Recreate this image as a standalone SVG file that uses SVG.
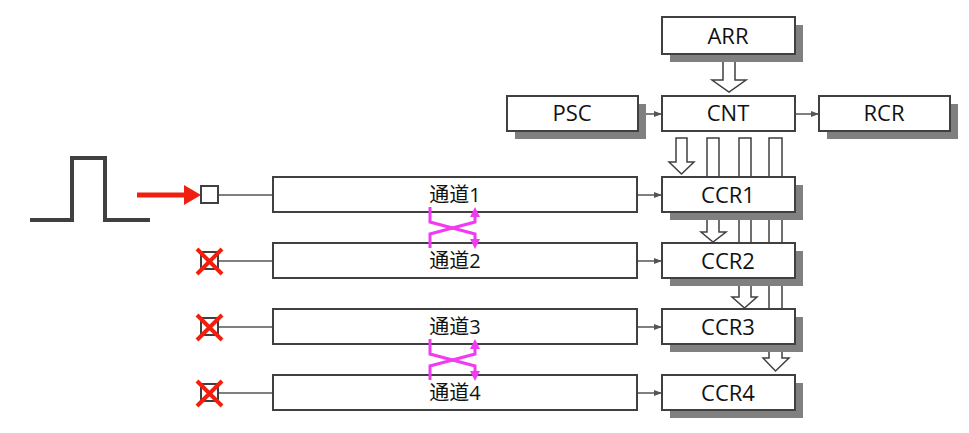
<svg xmlns="http://www.w3.org/2000/svg" width="969" height="433" viewBox="0 0 969 433">
<style>
.box{fill:#fff;stroke:#404040;stroke-width:2}
.sh{fill:#808080}
.t{font-family:"Open Sans","Noto Sans CJK SC",sans-serif;font-size:22px;fill:#111;text-anchor:middle}
.c{font-family:"Open Sans","Noto Sans CJK SC",sans-serif;font-size:20px;fill:#111;text-anchor:middle}
.ln{stroke:#555;stroke-width:1.5;fill:none}
.ha{fill:#fff;stroke:#404040;stroke-width:1.5}
.mg{stroke:#f03cf0;stroke-width:3;fill:none}
.mh{fill:#f03cf0}
.x{stroke:#f02010;stroke-width:4}
</style>
<defs>
<marker id="ga" markerWidth="8" markerHeight="8" refX="7" refY="4" orient="auto" markerUnits="userSpaceOnUse"><path d="M0,1 L8,4 L0,7z" fill="#555"/></marker>
</defs>
<g id="pulse"><path d="M30,220 H72 V158 H105 V220 H150" fill="none" stroke="#404040" stroke-width="4"/></g>
<g id="connectors">
<path d="M137,195 H188" stroke="#f02010" stroke-width="5"/>
<path d="M184,185 L201,195 L184,205z" fill="#f02010"/>
<path class="ln" d="M219,195 H273"/>
<path class="ln" d="M219,261 H273"/>
<path class="ln" d="M219,327 H273"/>
<path class="ln" d="M219,393 H273"/>
<path class="ln" d="M637,195 H661" marker-end="url(#ga)"/>
<path class="ln" d="M637,261 H661" marker-end="url(#ga)"/>
<path class="ln" d="M637,327 H661" marker-end="url(#ga)"/>
<path class="ln" d="M637,393 H661" marker-end="url(#ga)"/>
<path class="ln" d="M638,114 H661" marker-end="url(#ga)"/>
<path class="ln" d="M795,114 H818" marker-end="url(#ga)"/>
<path class="ha" d="M723,57 H735 V80 H746 L729,92 L712,80 H723z"/>
<path class="ha" d="M676,138 H687 V162 H694 L681.5,174 L669,162 H676z"/>
<path class="ha" d="M707,138 H719 V232 H726 L713,242 L701,232 H707z"/>
<path class="ha" d="M739,138 H751 V297 H757 L744.5,308 L732,297 H739z"/>
<path class="ha" d="M769,138 H782 V358 H789 L775.5,371 L763,358 H769z"/>
</g>
<g id="inputs">
<rect class="box" x="201" y="186" width="17" height="17" stroke-width="1.5"/>
<rect class="box" x="201" y="252" width="17" height="17" stroke-width="1.5"/>
<path class="x" d="M197,249 L222,274 M222,249 L197,274"/>
<rect class="box" x="201" y="318" width="17" height="17" stroke-width="1.5"/>
<path class="x" d="M197,315 L222,340 M222,315 L197,340"/>
<rect class="box" x="201" y="384" width="17" height="17" stroke-width="1.5"/>
<path class="x" d="M197,381 L222,406 M222,381 L197,406"/>
</g>
<g id="ch1"><rect class="box" x="273" y="177" width="364" height="35"/><text class="c" x="455" y="202">通道1</text></g>
<g id="ch2"><rect class="box" x="273" y="243" width="364" height="35"/><text class="c" x="455" y="268">通道2</text></g>
<g id="ch3"><rect class="box" x="273" y="309" width="364" height="35"/><text class="c" x="455" y="334">通道3</text></g>
<g id="ch4"><rect class="box" x="273" y="375" width="364" height="35"/><text class="c" x="455" y="400">通道4</text></g>
<g id="swaps">
<path class="mg" d="M430,207 V222 L475,234 V240"/>
<path class="mh" d="M470,239 L480,239 L475,249z"/>
<path class="mg" d="M430,248 V234 L475,222 V216"/>
<path class="mh" d="M470,217 L480,217 L475,207z"/>
<path class="mg" d="M430,339 V354 L475,366 V372"/>
<path class="mh" d="M470,371 L480,371 L475,381z"/>
<path class="mg" d="M430,380 V366 L475,354 V348"/>
<path class="mh" d="M470,349 L480,349 L475,339z"/>
</g>
<g id="arr"><rect class="sh" x="670" y="25" width="133" height="37"/><rect class="box" x="662" y="17" width="133" height="37"/><text class="t" x="728" y="44">ARR</text></g>
<g id="psc"><rect class="sh" x="515" y="104" width="131" height="35"/><rect class="box" x="507" y="96" width="131" height="35"/><text class="t" x="572" y="121">PSC</text></g>
<g id="cnt"><rect class="box" x="662" y="96" width="133" height="35"/><text class="t" x="728" y="121">CNT</text></g>
<g id="rcr"><rect class="sh" x="827" y="104" width="131" height="35"/><rect class="box" x="819" y="96" width="131" height="35"/><text class="t" x="884" y="121">RCR</text></g>
<g id="ccr1"><rect class="sh" x="670" y="185" width="133" height="35"/><rect class="box" x="662" y="177" width="133" height="35"/><text class="t" x="728" y="203">CCR1</text></g>
<g id="ccr2"><rect class="sh" x="670" y="251" width="133" height="35"/><rect class="box" x="662" y="243" width="133" height="35"/><text class="t" x="728" y="269">CCR2</text></g>
<g id="ccr3"><rect class="sh" x="670" y="317" width="133" height="35"/><rect class="box" x="662" y="309" width="133" height="35"/><text class="t" x="728" y="335">CCR3</text></g>
<g id="ccr4"><rect class="sh" x="670" y="383" width="133" height="35"/><rect class="box" x="662" y="375" width="133" height="35"/><text class="t" x="728" y="401">CCR4</text></g>
</svg>
